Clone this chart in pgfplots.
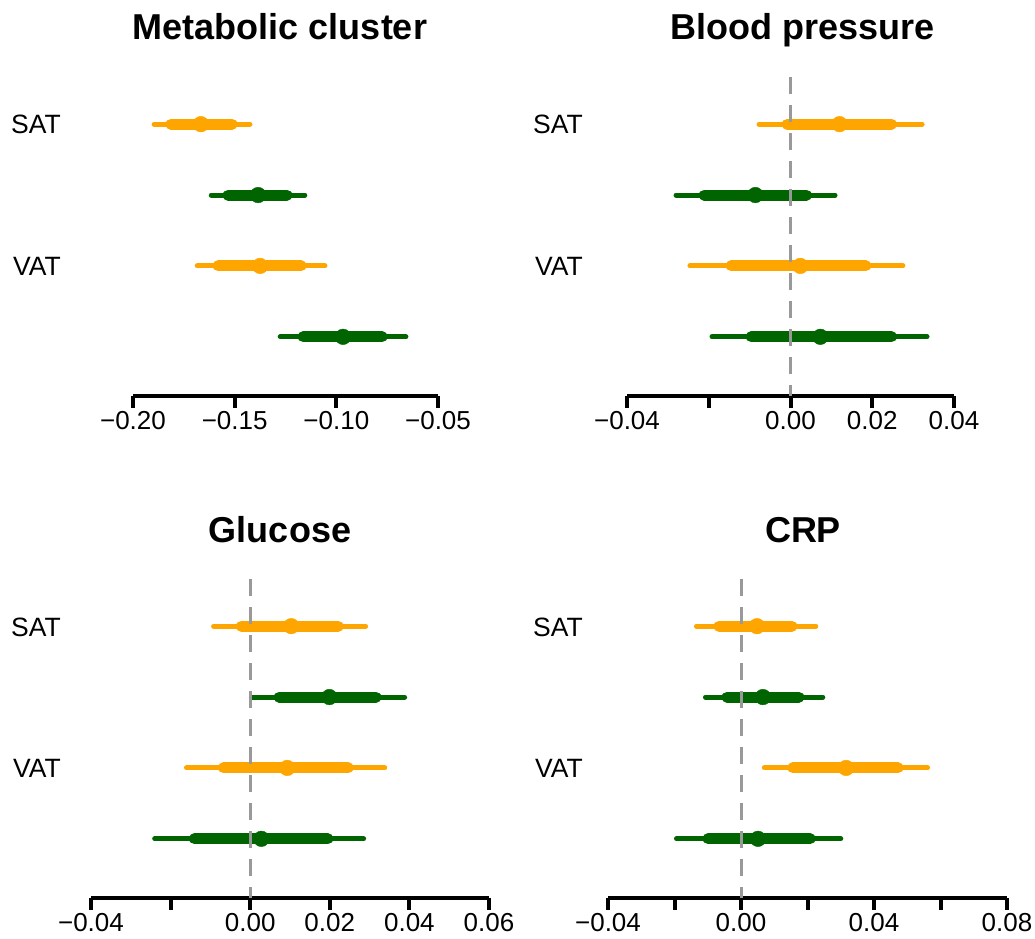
\documentclass[border=0pt]{standalone}
\usepackage{fontspec}
\setmainfont{Liberation Sans}
\usepackage{pgfplots}
\pgfplotsset{compat=1.18}

\definecolor{orng}{HTML}{FFA500}
\definecolor{dgreen}{HTML}{006400}
\definecolor{dashgray}{HTML}{999999}

% one forest row: colour, y, lo95, lo50, est, hi50, hi95
\newcommand{\frow}[7]{%
  \addplot[#1, line width=5pt, line cap=round] coordinates {(#3,#2)(#7,#2)};
  \addplot[#1, line width=11pt, line cap=round] coordinates {(#4,#2)(#6,#2)};
  \addplot[#1, only marks, mark=*, mark size=7.8pt, mark options={draw=#1, fill=#1}] coordinates {(#5,#2)};
}
\newcommand{\zeroline}{%
  \addplot[dashgray, line width=3pt, dash pattern=on 17pt off 11pt] coordinates {(0,4.665)(0,0.165)};
}

\pgfplotsset{
  forest/.style={
    scale only axis,
    anchor=south west,
    height=319pt,
    ymin=0.165, ymax=4.665,
    axis x line*=bottom,
    axis y line=none,
    x axis line style={black, line width=4pt},
    xtick style={black, line width=4pt},
    major tick length=12pt,
    tick align=outside,
    scaled x ticks=false,
    xticklabel style={font=\fontsize{26}{30}\selectfont, inner sep=0pt, yshift=-3pt},
    clip=false,
  },
}

\begin{document}
\begin{tikzpicture}
\path[use as bounding box] (0,0) rectangle (1035pt,-938pt);

%% Metabolic cluster
\begin{axis}[forest, at={(133pt,-396pt)}, width=305pt,
  xmin=-0.20, xmax=-0.05,
  xtick={-0.20,-0.15,-0.10,-0.05},
  xticklabels={−0.20,−0.15,−0.10,−0.05}]
  \frow{orng}{4}{-0.1896}{-0.1813}{-0.1666}{-0.1513}{-0.1425}
  \frow{dgreen}{3}{-0.1615}{-0.1532}{-0.1385}{-0.1243}{-0.1155}
  \frow{orng}{2}{-0.1684}{-0.1581}{-0.1375}{-0.1174}{-0.1056}
  \frow{dgreen}{1}{-0.1276}{-0.1163}{-0.0967}{-0.0775}{-0.0658}
\end{axis}

%% Blood pressure
\begin{axis}[forest, at={(627pt,-396pt)}, width=327pt,
  xmin=-0.04, xmax=0.04,
  xtick={-0.04,-0.02,0,0.02,0.04},
  xticklabels={−0.04,,0.00,0.02,0.04}]
  \frow{orng}{4}{-0.0077}{-0.0008}{0.0120}{0.0247}{0.0322}
  \frow{dgreen}{3}{-0.0280}{-0.0211}{-0.0086}{0.0039}{0.0109}
  \frow{orng}{2}{-0.0246}{-0.0145}{0.0024}{0.0184}{0.0275}
  \frow{dgreen}{1}{-0.0192}{-0.0096}{0.0073}{0.0247}{0.0334}
  \zeroline
\end{axis}

%% Glucose
\begin{axis}[forest, at={(91pt,-898pt)}, width=398pt,
  xmin=-0.04, xmax=0.06,
  xtick={-0.04,-0.02,0,0.02,0.04,0.06},
  xticklabels={−0.04,,0.00,0.02,0.04,0.06}]
  \frow{orng}{4}{-0.0092}{-0.0022}{0.0103}{0.0221}{0.0290}
  \frow{dgreen}{3}{0.0003}{0.0073}{0.0199}{0.0316}{0.0388}
  \frow{orng}{2}{-0.0160}{-0.0067}{0.0093}{0.0246}{0.0338}
  \frow{dgreen}{1}{-0.0240}{-0.0140}{0.0028}{0.0195}{0.0285}
  \zeroline
\end{axis}

%% CRP
\begin{axis}[forest, at={(608pt,-898pt)}, width=399pt,
  xmin=-0.04, xmax=0.08,
  xtick={-0.04,-0.02,0,0.02,0.04,0.06,0.08},
  xticklabels={−0.04,,0.00,,0.04,,0.08}]
  \frow{orng}{4}{-0.0134}{-0.0066}{0.0048}{0.0153}{0.0225}
  \frow{dgreen}{3}{-0.0107}{-0.0042}{0.0066}{0.0174}{0.0246}
  \frow{orng}{2}{0.0070}{0.0156}{0.0316}{0.0472}{0.0561}
  \frow{dgreen}{1}{-0.0194}{-0.0099}{0.0051}{0.0208}{0.0300}
  \zeroline
\end{axis}

%% titles
\begin{scope}[every node/.style={font=\fontsize{36}{40}\selectfont\bfseries, anchor=base, inner sep=0pt}]
  \node at (280pt,-39pt) {Metabolic cluster};
  \node at (803pt,-39pt) {Blood pressure};
  \node at (280pt,-542pt) {Glucose};
  \node at (803pt,-542pt) {CRP};
\end{scope}

%% row labels
\begin{scope}[every node/.style={font=\fontsize{26.5}{30}\selectfont, anchor=east, inner sep=0pt}]
  \node at (61pt,-124pt) {SAT};
  \node at (61pt,-266pt) {VAT};
  \node at (583pt,-124pt) {SAT};
  \node at (583pt,-266pt) {VAT};
  \node at (61pt,-627pt) {SAT};
  \node at (61pt,-768pt) {VAT};
  \node at (583pt,-627pt) {SAT};
  \node at (583pt,-768pt) {VAT};
\end{scope}
\end{tikzpicture}
\end{document}
